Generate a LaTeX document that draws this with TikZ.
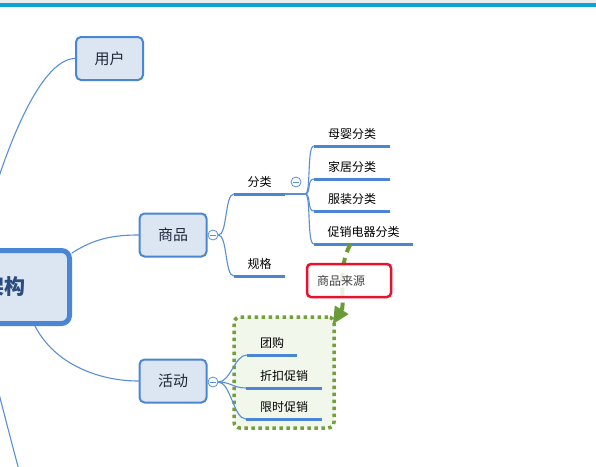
\documentclass[tikz,border=0pt]{standalone}
\usepackage{fontspec}
\setmainfont{Noto Sans CJK SC}
\usetikzlibrary{arrows.meta}
\definecolor{topicblue}{HTML}{4A86D4}
\definecolor{topicfill}{HTML}{DCE6F2}
\definecolor{topictext}{HTML}{1E2A3A}
\definecolor{roottext}{HTML}{2B4C7E}
\definecolor{branchblue}{HTML}{5A8FD8}
\definecolor{grpgreen}{HTML}{73A03A}
\definecolor{grpfill}{HTML}{F2F7EC}
\definecolor{arrowgreen}{HTML}{6B9B37}
\definecolor{srcred}{HTML}{E8122C}
\definecolor{topbar}{HTML}{0BA3D6}

\begin{document}
\begin{tikzpicture}[x=1pt,y=-1pt,>=Stealth,line join=round,line cap=round,
    topic/.style={draw=topicblue,line width=2pt,fill=topicfill,rounded corners=5pt,minimum width=67pt,minimum height=43pt,inner sep=0pt,text=topictext,font=\fontsize{15}{15}\selectfont},
    root/.style={draw=topicblue,line width=5pt,fill=topicfill,rounded corners=8pt,minimum height=73pt,text width=130pt,align=right,inner xsep=44pt,text=roottext,font=\fontsize{21}{21}\selectfont\bfseries},
    sub/.style={anchor=south,minimum height=23pt,inner sep=0pt,font=\fontsize{12}{12}\selectfont},
    uline/.style={draw=topicblue,line width=3pt,line cap=butt},
    branch/.style={draw=branchblue,line width=1.1pt},
    fold/.style={circle,draw=branchblue,fill=white,line width=.8pt,minimum size=10pt,inner sep=0pt,
      path picture={\draw[branchblue,line width=.8pt] ([xshift=-2.6pt]path picture bounding box.center)--([xshift=2.6pt]path picture bounding box.center);}},
    grpbox/.style={draw=grpgreen,fill=grpfill,line width=3.5pt,line cap=butt,dash pattern=on 3.5pt off 3.5pt,rounded corners=6pt,minimum width=100pt,minimum height=111pt},
    srcbox/.style={draw=srcred,line width=2.5pt,fill=white,fill opacity=.85,text opacity=1,rounded corners=4pt,minimum height=33pt,text width=64pt,align=left,inner xsep=10pt,text=black!75,font=\fontsize{12}{12}\selectfont},
    srcarrow/.style={draw=arrowgreen,line width=4pt,line cap=butt,dash pattern=on 9pt off 6pt,-{Triangle[length=17pt,width=15pt]}}]
  \useasboundingbox (0,0) rectangle (596,466);
  \clip (0,0) rectangle (596,466);
  \fill[white] (0,0) rectangle (596,466);
  \fill[black!7] (0,0) rectangle (596,2.5);
  \fill[topbar] (0,2.5) rectangle (596,6.5);

  \node[grpbox] (grp) at (284,372.5) {};

  \node[root,anchor=east] (root) at (72,287) {架构};
  \node[topic] (user) at (109.5,58.5) {用户};
  \node[topic] (shop) at (173,235) {商品};
  \node[topic] (act) at (173,381) {活动};
  \node[fold] (shopfold) at (213,235) {};
  \node[fold] (actfold) at (213,382) {};
  \node[fold] (catfold) at (296,182) {};

  \node[sub,minimum width=51pt] (cat) at (259.5,194) {分类};
  \node[sub,minimum width=51pt] (spec) at (259.5,276) {规格};
  \node[sub,minimum width=76pt] (mb) at (352,146) {母婴分类};
  \node[sub,minimum width=76pt] (jj) at (352,179) {家居分类};
  \node[sub,minimum width=76pt] (fz) at (352,211) {服装分类};
  \node[sub,minimum width=99pt] (cx) at (363.5,244) {促销电器分类};
  \node[sub,minimum width=50pt] (tg) at (272,355) {团购};
  \node[sub,minimum width=76pt] (zk) at (284,388) {折扣促销};
  \node[sub,minimum width=76pt] (xs) at (284,419) {限时促销};
  \coordinate (catj) at ([xshift=20pt]cat.south east);
  \coordinate (rootdown) at (26,495);

  \draw[branch] ([xshift=-94pt]root.north east) .. controls (3,150) and (40,59) .. (user.west);
  \draw[branch] ([yshift=-5pt]root.north east) .. controls (95,238) and (115,235) .. (shop.west);
  \draw[branch] ([xshift=-37pt]root.south east) .. controls (55,365) and (100,381) .. (act.west);
  \draw[branch] ([xshift=-92pt]root.south east) .. controls (-6,370) and (10,440) .. (rootdown);

  \foreach \n in {cat,spec}
    \draw[branch] (shopfold.east) .. controls +(9,0) and +(-9,0) .. (\n.south west);
  \draw[branch] (cat.south east) -- (catj);
  \foreach \n in {mb,jj,fz,cx}
    \draw[branch] (catj) .. controls +(6,0) and +(-7,0) .. (\n.south west);
  \foreach \n in {tg,zk,xs}
    \draw[branch] (actfold.east) .. controls +(12,0) and +(-12,0) .. (\n.south west);
  \foreach \n in {cat,spec,mb,jj,fz,cx,tg,zk,xs}
    \draw[uline] (\n.south west) -- (\n.south east);

  \draw[srcarrow] ([xshift=-13pt]cx.south) .. controls (336,270) and (346,303) .. ([xshift=-3pt,yshift=-9pt]grp.north east);
  \node[srcbox] (src) at (349,280.5) {商品来源};
\end{tikzpicture}
\end{document}
